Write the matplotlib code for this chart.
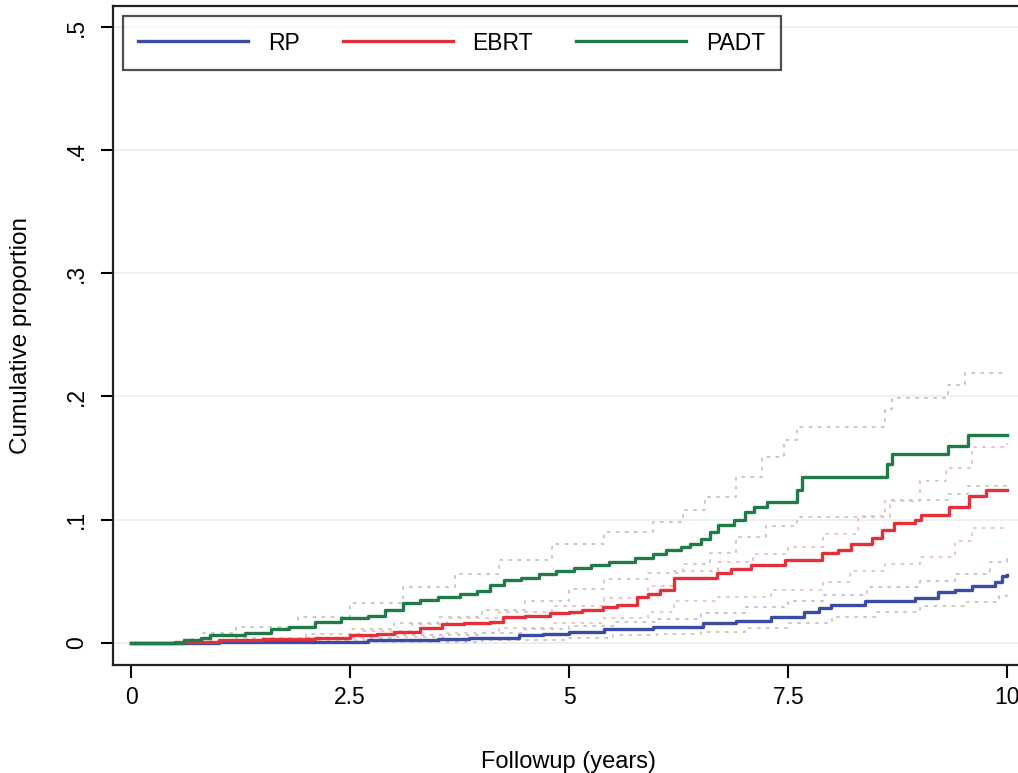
import matplotlib
matplotlib.use("Agg")
import matplotlib.pyplot as plt

plt.rcParams['font.family'] = ['Liberation Sans', 'DejaVu Sans']

# cumulative incidence step curves (time in years, proportion)
rp_t = [0, 1.0, 2.0, 2.7, 3.5, 3.86, 4.43, 4.7, 5.0, 5.4, 5.96, 6.53, 6.9, 7.3, 7.68, 7.85, 7.99, 8.37, 8.94, 9.21, 9.4, 9.6, 9.86, 9.94, 10.0]
rp_v = [0, 0.0005, 0.001, 0.002, 0.003, 0.004, 0.006, 0.007, 0.009, 0.011, 0.013, 0.016, 0.018, 0.021, 0.025, 0.028, 0.031, 0.034, 0.036, 0.041, 0.043, 0.046, 0.049, 0.054, 0.055]

ebrt_t = [0, 0.5, 1.0, 1.5, 2.1, 2.5, 2.8, 3.0, 3.3, 3.55, 3.8, 4.09, 4.24, 4.5, 4.78, 5.0, 5.15, 5.38, 5.54, 5.77,
          5.9, 6.04, 6.19, 6.69, 6.85, 7.07, 7.46, 7.88, 8.07, 8.22, 8.45, 8.57, 8.70, 8.95, 9.01, 9.33, 9.56, 9.76, 10.0]
ebrt_v = [0, 0.001, 0.002, 0.003, 0.004, 0.006, 0.007, 0.009, 0.012, 0.015, 0.016, 0.017, 0.021, 0.022, 0.024, 0.025, 0.027, 0.029, 0.031, 0.037,
          0.040, 0.043, 0.053, 0.057, 0.060, 0.063, 0.067, 0.073, 0.075, 0.080, 0.085, 0.092, 0.097, 0.100, 0.104, 0.110, 0.119, 0.124, 0.124]

padt_t = [0, 0.6, 0.8, 0.9, 1.3, 1.6, 1.8, 2.1, 2.4, 2.7, 2.9, 3.1, 3.3, 3.5, 3.75, 3.95, 4.1, 4.25, 4.45, 4.65,
          4.85, 5.05, 5.25, 5.45, 5.75, 5.95, 6.1, 6.27, 6.38, 6.5, 6.6, 6.7, 6.88, 7.0, 7.11, 7.26, 7.6, 7.65, 8.62, 8.68,
          9.32, 9.55, 10.0]
padt_v = [0, 0.002, 0.004, 0.006, 0.008, 0.011, 0.013, 0.017, 0.020, 0.022, 0.027, 0.032, 0.035, 0.037, 0.040, 0.042, 0.047, 0.051, 0.053, 0.056,
          0.058, 0.061, 0.063, 0.066, 0.069, 0.072, 0.075, 0.078, 0.080, 0.084, 0.090, 0.096, 0.100, 0.106, 0.110, 0.114, 0.124, 0.135, 0.145, 0.153,
          0.160, 0.169, 0.169]

# confidence bands
padt_hi_t = [0, 0.6, 0.8, 1.2, 1.9, 2.5, 3.1, 3.7, 4.2, 4.8, 5.4, 5.95, 6.3, 6.55, 6.9, 7.2, 7.45, 7.6, 8.6, 8.68, 9.32, 9.52, 10.0]
padt_hi_v = [0, 0.003, 0.008, 0.013, 0.021, 0.032, 0.045, 0.056, 0.067, 0.080, 0.090, 0.098, 0.108, 0.118, 0.135, 0.151, 0.165, 0.175, 0.190, 0.199, 0.209, 0.219, 0.219]
padt_lo_t = [0, 1.0, 2.0, 2.5, 3.0, 3.5, 4.0, 4.5, 5.0, 5.4, 5.9, 6.3, 6.6, 6.9, 7.25, 7.6, 8.66, 9.32, 9.55, 10.0]
padt_lo_v = [0, 0.002, 0.007, 0.011, 0.016, 0.021, 0.027, 0.034, 0.044, 0.052, 0.057, 0.064, 0.073, 0.086, 0.095, 0.102, 0.116, 0.121, 0.127, 0.127]

ebrt_hi_t = [0, 0.6, 1.2, 2.0, 2.6, 3.2, 3.6, 4.2, 4.8, 5.4, 5.9, 6.2, 6.7, 7.1, 7.5, 7.9, 8.3, 8.6, 9.0, 9.3, 9.6, 10.0]
ebrt_hi_v = [0, 0.002, 0.004, 0.007, 0.010, 0.015, 0.020, 0.025, 0.030, 0.036, 0.046, 0.058, 0.066, 0.072, 0.078, 0.088, 0.103, 0.115, 0.131, 0.142, 0.159, 0.162]
ebrt_lo_t = [0, 1.0, 2.0, 3.0, 3.6, 4.2, 4.8, 5.4, 5.9, 6.2, 6.7, 7.3, 7.9, 8.2, 8.6, 9.0, 9.4, 9.6, 10.0]
ebrt_lo_v = [0, 0.0005, 0.002, 0.005, 0.008, 0.012, 0.016, 0.020, 0.025, 0.034, 0.037, 0.043, 0.049, 0.058, 0.064, 0.070, 0.083, 0.093, 0.093]

rp_hi_t = [0, 1.0, 2.0, 3.0, 4.0, 4.5, 5.0, 5.5, 6.0, 6.5, 7.0, 7.5, 7.9, 8.4, 9.0, 9.4, 9.8, 10.0]
rp_hi_v = [0, 0.002, 0.004, 0.006, 0.008, 0.011, 0.014, 0.017, 0.019, 0.024, 0.029, 0.034, 0.039, 0.045, 0.050, 0.056, 0.066, 0.073]
rp_lo_t = [0, 2.0, 3.0, 4.0, 5.0, 5.5, 6.0, 6.5, 7.0, 7.5, 8.0, 8.5, 9.0, 9.5, 9.9, 10.0]
rp_lo_v = [0, 0.0003, 0.001, 0.002, 0.004, 0.006, 0.007, 0.009, 0.012, 0.016, 0.021, 0.025, 0.030, 0.033, 0.038, 0.040]

yticks = [0, 0.1, 0.2, 0.3, 0.4, 0.5]
ytick_labels = ['0', '.1', '.2', '.3', '.4', '.5']
xticks = [0, 2.5, 5, 7.5, 10]
xtick_labels = ['0', '2.5', '5', '7.5', '10']

blue = '#3b4ba3'
red = '#e2313b'
green = '#1f7b47'

fig = plt.figure(figsize=(10.18, 7.73), dpi=100)
ax = fig.add_axes([0.111, 0.1397, 0.895, 0.8525])

ax.set_xlim(-0.207, 10.19)
ax.set_ylim(-0.018, 0.517)

for y in yticks:
    ax.axhline(y, color='#ececec', lw=1.2, zorder=0)

band_style = dict(where='post', lw=1.3, dashes=(2, 3))
ax.step(padt_hi_t, padt_hi_v, color='#b9cbbf', **band_style)
ax.step(padt_lo_t, padt_lo_v, color='#c3cbbd', **band_style)
ax.step(ebrt_hi_t, ebrt_hi_v, color='#f1bcbc', **band_style)
ax.step(ebrt_lo_t, ebrt_lo_v, color='#e8c4bc', **band_style)
ax.step(rp_hi_t, rp_hi_v, color='#bcc2dc', **band_style)
ax.step(rp_lo_t, rp_lo_v, color='#c4c8c0', **band_style)

ax.step(rp_t, rp_v, where='post', color=blue, lw=2.4, label='RP')
ax.step(ebrt_t, ebrt_v, where='post', color=red, lw=2.4, label='EBRT')
ax.step(padt_t, padt_v, where='post', color=green, lw=2.4, label='PADT')

ax.set_yticks(yticks)
ax.set_yticklabels(ytick_labels, rotation=90, va='center')
ax.set_xticks(xticks)
ax.set_xticklabels(xtick_labels)
ax.tick_params(axis='both', labelsize=16.5, length=9, width=1.5, direction='out')
ax.tick_params(axis='x', pad=6)
ax.tick_params(axis='y', pad=9)

for s in ['left', 'bottom', 'top']:
    ax.spines[s].set_linewidth(1.6)
    ax.spines[s].set_color('#222222')
ax.spines['right'].set_visible(False)

ax.set_ylabel('Cumulative proportion', fontsize=17.5, labelpad=24)
ax.set_xlabel('Followup (years)', fontsize=17, labelpad=30)

leg = ax.legend(loc='upper left', bbox_to_anchor=(0.0105, 0.985), ncol=3, fontsize=16.5,
                frameon=True, fancybox=False, handlelength=4.8, handleheight=1.0,
                handletextpad=0.85, columnspacing=1.9, borderpad=0.68, borderaxespad=0)
leg.get_frame().set_edgecolor('#222222')
leg.get_frame().set_linewidth(1.6)

fig.savefig('out.png', dpi=100)
